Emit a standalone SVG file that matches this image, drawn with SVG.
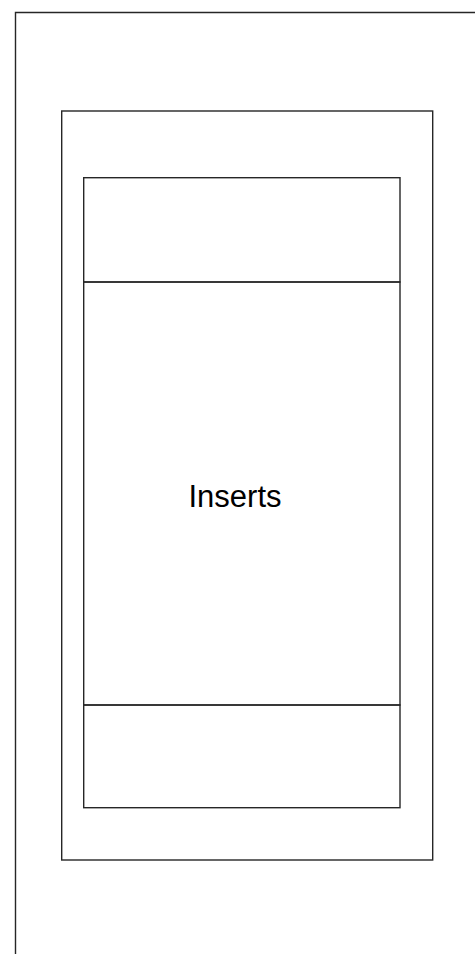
<svg xmlns="http://www.w3.org/2000/svg" width="475" height="954" viewBox="0 0 475 954">
<style>
.ln{fill:none;stroke:#262626;stroke-width:1.4}
.lbl{font-family:"Liberation Sans",Arial,sans-serif;font-size:31px;fill:#000}
</style>
<rect width="475" height="954" fill="#fff"/>
<g id="outer"><path class="ln" d="M15.5,954 V12.5 H475"/></g>
<g id="frame"><rect class="ln" x="61.7" y="111" width="371" height="749"/></g>
<g id="header"><rect class="ln" x="83.7" y="177.7" width="316.3" height="104.3"/></g>
<g id="inserts"><rect class="ln" x="83.7" y="282" width="316.3" height="423"/>
<text class="lbl" x="235" y="506.5" text-anchor="middle">Inserts</text></g>
<g id="footer"><rect class="ln" x="83.7" y="705" width="316.3" height="102.7"/></g>
<g id="connectors"/>
</svg>
